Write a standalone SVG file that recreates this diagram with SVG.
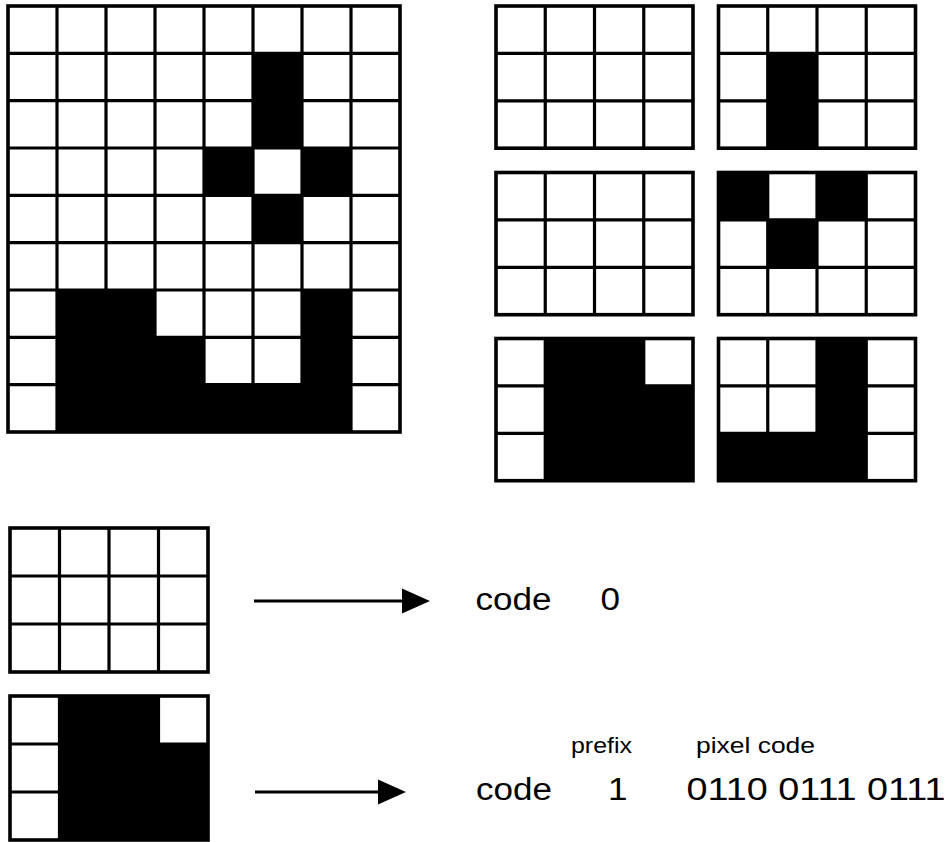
<svg xmlns="http://www.w3.org/2000/svg" width="948" height="842" viewBox="0 0 948 842">
<defs>
<style>
.bg{fill:#fff}
.blk{fill:#000}
.grid{fill:none;stroke:#000;stroke-width:3.2}
.frame{fill:none;stroke:#000;stroke-width:3.6}
.conn{stroke:#000;stroke-width:3;fill:none}
.lbl{font-family:"Liberation Sans",Arial,sans-serif;fill:#000}
.big{font-size:31px}
.small{font-size:22px}
</style>
<marker id="ah" markerUnits="userSpaceOnUse" markerWidth="28" markerHeight="26" viewBox="0 0 27 24" refX="2" refY="12" orient="auto">
<path d="M0,0 L27,12 L0,24 z" fill="#000"/>
</marker>
</defs>
<rect width="948" height="842" fill="#fff"/>

<g id="bigGrid">
<rect class="bg" x="8" y="6" width="392" height="426"/>
<rect class="blk" x="253" y="53.33" width="49" height="94.67"/>
<rect class="blk" x="204" y="148" width="49" height="47.33"/>
<rect class="blk" x="302" y="148" width="49" height="47.33"/>
<rect class="blk" x="253" y="195.33" width="49" height="47.33"/>
<rect class="blk" x="57" y="290" width="98" height="142"/>
<rect class="blk" x="155" y="337.33" width="49" height="94.67"/>
<rect class="blk" x="204" y="384.67" width="98" height="47.33"/>
<rect class="blk" x="302" y="290" width="49" height="142"/>
<path class="grid" d="M57,6V432M106,6V432M155,6V432M204,6V432M253,6V432M302,6V432M351,6V432M8,53.33H400M8,100.67H400M8,148H400M8,195.33H400M8,242.67H400M8,290H400M8,337.33H400M8,384.67H400"/>
<rect class="frame" x="8" y="6" width="392" height="426"/>
</g>

<g id="blockTL" transform="translate(496,6)">
<rect class="bg" width="197" height="142.2"/>
<path class="grid" d="M49.25,0V142.2M98.5,0V142.2M147.75,0V142.2M0,47.4H197M0,94.8H197"/>
<rect class="frame" width="197" height="142.2"/>
</g>

<g id="blockTR" transform="translate(718.5,6)">
<rect class="bg" width="197" height="142.2"/>
<rect class="blk" x="49.25" y="47.4" width="49.25" height="94.8"/>
<path class="grid" d="M49.25,0V142.2M98.5,0V142.2M147.75,0V142.2M0,47.4H197M0,94.8H197"/>
<rect class="frame" width="197" height="142.2"/>
</g>

<g id="blockML" transform="translate(496,172.5)">
<rect class="bg" width="197" height="142.2"/>
<path class="grid" d="M49.25,0V142.2M98.5,0V142.2M147.75,0V142.2M0,47.4H197M0,94.8H197"/>
<rect class="frame" width="197" height="142.2"/>
</g>

<g id="blockMR" transform="translate(718.5,172.5)">
<rect class="bg" width="197" height="142.2"/>
<rect class="blk" x="0" y="0" width="49.25" height="47.4"/>
<rect class="blk" x="98.5" y="0" width="49.25" height="47.4"/>
<rect class="blk" x="49.25" y="47.4" width="49.25" height="47.4"/>
<path class="grid" d="M49.25,0V142.2M98.5,0V142.2M147.75,0V142.2M0,47.4H197M0,94.8H197"/>
<rect class="frame" width="197" height="142.2"/>
</g>

<g id="blockBL" transform="translate(496,338.5)">
<rect class="bg" width="197" height="142.2"/>
<rect class="blk" x="49.25" y="0" width="98.5" height="142.2"/>
<rect class="blk" x="147.75" y="47.4" width="49.25" height="94.8"/>
<path class="grid" d="M49.25,0V142.2M98.5,0V142.2M147.75,0V142.2M0,47.4H197M0,94.8H197"/>
<rect class="frame" width="197" height="142.2"/>
</g>

<g id="blockBR" transform="translate(718.5,338.5)">
<rect class="bg" width="197" height="142.2"/>
<rect class="blk" x="98.5" y="0" width="49.25" height="142.2"/>
<rect class="blk" x="0" y="94.8" width="98.5" height="47.4"/>
<path class="grid" d="M49.25,0V142.2M98.5,0V142.2M147.75,0V142.2M0,47.4H197M0,94.8H197"/>
<rect class="frame" width="197" height="142.2"/>
</g>

<g id="exampleEmpty" transform="translate(10,528)">
<rect class="bg" width="198" height="144"/>
<path class="grid" d="M49.5,0V144M99,0V144M148.5,0V144M0,48H198M0,96H198"/>
<rect class="frame" width="198" height="144"/>
</g>

<g id="exampleFilled" transform="translate(10,696)">
<rect class="bg" width="198" height="144"/>
<rect class="blk" x="49.5" y="0" width="99" height="144"/>
<rect class="blk" x="148.5" y="48" width="49.5" height="96"/>
<path class="grid" d="M49.5,0V144M99,0V144M148.5,0V144M0,48H198M0,96H198"/>
<rect class="frame" width="198" height="144"/>
</g>

<g id="connectors">
<line class="conn" x1="254" y1="601" x2="404" y2="601" marker-end="url(#ah)"/>
<line class="conn" x1="255" y1="792" x2="380" y2="792" marker-end="url(#ah)"/>
</g>

<g id="labelCode0">
<text class="lbl big" x="475.5" y="610" textLength="76" lengthAdjust="spacingAndGlyphs">code</text>
<text class="lbl big" x="600.5" y="610" textLength="19.5" lengthAdjust="spacingAndGlyphs">0</text>
</g>

<g id="labelCode1">
<text class="lbl small" x="571" y="753" textLength="61" lengthAdjust="spacingAndGlyphs">prefix</text>
<text class="lbl small" x="696" y="753" textLength="119" lengthAdjust="spacingAndGlyphs">pixel code</text>
<text class="lbl big" x="476" y="800" textLength="76" lengthAdjust="spacingAndGlyphs">code</text>
<text class="lbl big" x="608" y="800" textLength="19.5" lengthAdjust="spacingAndGlyphs">1</text>
<text class="lbl big" x="686.5" y="800" textLength="259" lengthAdjust="spacingAndGlyphs">0110 0111 0111</text>
</g>
</svg>
